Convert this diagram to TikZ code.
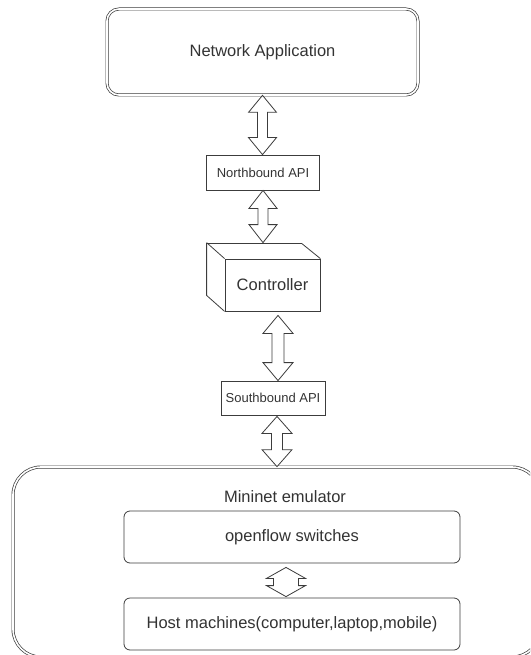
\documentclass[tikz,border=0pt]{standalone}
\usepackage{fontspec}
\setmainfont{Liberation Sans}
\usepackage{tikz}
\usetikzlibrary{calc}
\usepackage{xcolor}
\definecolor{linegray}{HTML}{3C3C3C}
\definecolor{textgray}{HTML}{333333}

\begin{document}
\begin{tikzpicture}[x=1pt, y=-1pt,
  every node/.style={font=\fontsize{16.5}{19}\selectfont, text=textgray, inner sep=0pt},
  plainbox/.style={draw=linegray, line width=0.8pt, minimum width=#1},
  dblbox/.style={draw=linegray, line width=0.7pt, double=white, double distance=1.6pt},
  apibox/.style={plainbox=#1, minimum height=35, font=\fontsize{13}{15}\selectfont},
  mnbox/.style={draw=linegray, line width=0.8pt, rounded corners=6pt, minimum width=336, minimum height=52},
  blockarrow/.style n args={3}{draw=linegray, line width=0.8pt, fill=white, line join=miter,
    to path={let \p1=(\tikztostart), \p2=(\tikztotarget) in
      (\x1,\y1) -- (\x1-#1,\y1-#3) -- (\x1-#2,\y1-#3) -- (\x1-#2,\y2+#3) -- (\x1-#1,\y2+#3)
      -- (\x1,\y2) -- (\x1+#1,\y2+#3) -- (\x1+#2,\y2+#3) -- (\x1+#2,\y1-#3) -- (\x1+#1,\y1-#3) -- cycle}},
]
\useasboundingbox (0,0) rectangle (530,655);
\clip (0,0) rectangle (530,655);

% Top layers
\node[dblbox, rounded corners=12pt, minimum width=311, minimum height=86] (app) at (262.5,52) {Network Application};
\node[apibox=113] (nb) at (263,172.5) {Northbound API};

% Controller cube
\node[plainbox=95, minimum height=52] (ctrl) at (272.5,285) {Controller};
\draw[linegray, line width=0.8pt] (ctrl.south west) -- ++(-18,-16) -- ++(0,-52) -- ++(95,0) -- (ctrl.north east);
\draw[linegray, line width=0.8pt] (ctrl.north west) -- ++(-18,-16);
\coordinate (ctrltop) at ($(ctrl.north)+(-9.5,-16)$);

\node[apibox=104, minimum height=34] (sb) at (273,398) {Southbound API};

% Mininet
\node[dblbox, rounded corners=28pt, minimum width=527, minimum height=190] (mn) at (276.5,562) {};
\node (mnlabel) at (285,497) {Mininet emulator};
\node[mnbox] (of) at (292,537) {openflow switches};
\node[mnbox] (host) at (292,624) {Host machines(computer,laptop,mobile)};

% Arrows
\draw[blockarrow={14pt}{5pt}{17pt}] (app.south) to (nb.north);
\draw[blockarrow={14pt}{5pt}{18pt}] (nb.south) to (ctrltop);
\draw[blockarrow={15pt}{6pt}{18pt}] ($(ctrl.south)+(5.5,4)$) to ($(sb.north)+(5,0)$);
\draw[blockarrow={15pt}{5.5pt}{17pt}] ($(sb.south)+(4,1)$) to ($(mn.north)+(0.5,0)$);
\draw[blockarrow={19.5pt}{12.5pt}{11pt}] ($(of.south)+(-6,4)$) to ($(host.north)+(-6,-1)$);
\end{tikzpicture}
\end{document}
